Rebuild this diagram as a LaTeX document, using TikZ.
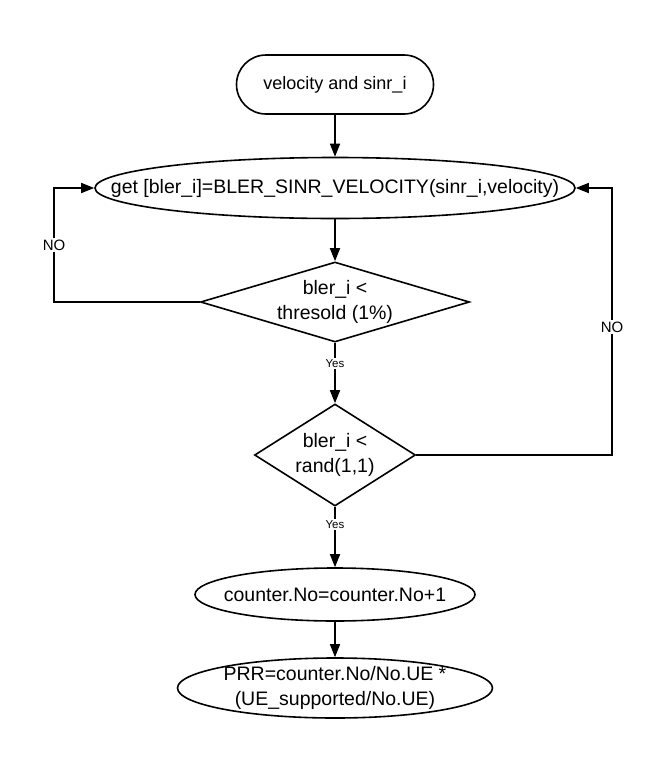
\documentclass[tikz,border=0pt]{standalone}
\usepackage{fontspec}
\setmainfont{Liberation Sans}
\usetikzlibrary{shapes.geometric,arrows.meta,calc}
\begin{document}
\begin{tikzpicture}[x=1pt,y=-1pt,
  shapebox/.style={draw, line width=1.6pt, inner sep=0pt},
  txt/.style={label={[font=\fontsize{19.5}{24.5}\selectfont, align=center]center:#1}},
  smalltxt/.style={label={[font=\fontsize{18}{22}\selectfont, align=center]center:#1}},
  term/.style={shapebox, rectangle, rounded corners=29.5pt},
  oval/.style={shapebox, ellipse},
  dec/.style={shapebox, diamond},
  arr/.style={-{Triangle[length=13pt,width=10pt]}, line width=1.6pt},
  yes/.style={fill=white, font=\fontsize{11.5}{13}\selectfont, inner sep=1.5pt},
  no/.style={fill=white, font=\fontsize{15}{18}\selectfont, inner sep=2pt}
]
\useasboundingbox (0,0) rectangle (666,774);
\fill[white] (0,0) rectangle (666,774);

\node[term, minimum width=197pt, minimum height=59pt, smalltxt={velocity and sinr\_i}] (start) at (335,84.5) {};
\node[oval, minimum width=480pt, minimum height=61pt, txt={get [bler\_i]=BLER\_SINR\_VELOCITY(sinr\_i,velocity)}] (get) at (335,188) {};
\node[dec, minimum width=269pt, minimum height=80pt, txt={bler\_i <\\thresold (1\%)}] (d1) at (335,302) {};
\node[dec, minimum width=161pt, minimum height=102pt, txt={bler\_i <\\rand(1,1)}] (d2) at (335,455) {};
\node[oval, minimum width=280pt, minimum height=53pt, txt={counter.No=counter.No+1}] (cnt) at (335,594.5) {};
\node[oval, minimum width=315pt, minimum height=60pt, txt={PRR=counter.No/No.UE *\\(UE\_supported/No.UE)}] (prr) at (335,688) {};

\coordinate (lc) at (54,188);
\coordinate (rc) at (612,188);

\draw[arr] (start) -- (get);
\draw[arr] (get) -- (d1);
\draw[arr] (d1) -- node[yes, pos=0.35]{Yes} (d2);
\draw[arr] (d2) -- node[yes, pos=0.3]{Yes} (cnt);
\draw[arr] (cnt) -- (prr);
\draw[arr] (d1.west) -- (d1.west -| lc) -- node[no]{NO} (lc) -- (get.west);
\draw[arr] (d2.east) -- (d2.east -| rc) -- node[no, pos=0.48]{NO} (rc) -- (get.east);
\end{tikzpicture}
\end{document}
